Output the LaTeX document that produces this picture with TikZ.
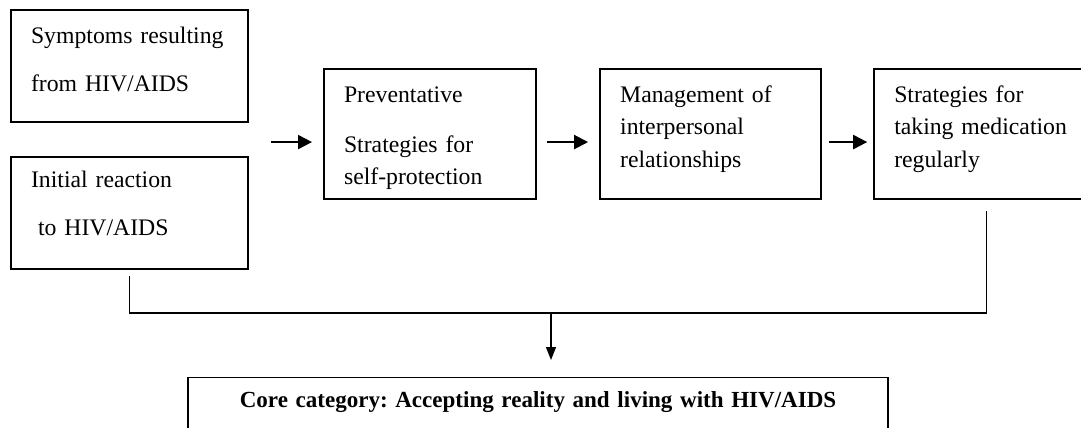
\documentclass[tikz,border=0pt]{standalone}
\usepackage{fontspec}
\setmainfont{Liberation Serif}
\usetikzlibrary{arrows.meta, positioning}
\frenchspacing

\begin{document}
\begin{tikzpicture}[
	font={\fontsize{13.5}{18.5}\selectfont},
	box/.style={draw, line width=1.2pt, align=left, anchor=north west,
		inner xsep=0.4cm, inner ysep=0.34cm, text height=0.32cm},
	smallbox/.style={box, text width=3.94cm, text depth=1.24cm},
	stagebox/.style={box, text depth=1.60cm},
	corebox/.style={draw, line width=0.6pt, anchor=north, align=center,
		text width=13.2cm, inner xsep=0.4cm, inner ysep=0.28cm,
		text height=0.32cm, text depth=0.8cm,
		font={\fontsize{13.1}{18}\selectfont\bfseries}},
	flow/.style={line width=1.2pt, -{Triangle[length=0.28cm, width=0.28cm]}},
	link/.style={line width=0.8pt},
	drop/.style={line width=0.7pt, -{Triangle[length=0.26cm, width=0.2cm]}}
	]
	\useasboundingbox (0,0) rectangle (21.62,-8.54);
	\clip (0,0) rectangle (21.62,-8.54);
	
	% Starting conditions
	\node[smallbox] (symptoms) at (0.20,-0.18) {Symptoms resulting\\[0.31cm]from HIV/AIDS};
	\node[smallbox, text height=0.26cm, text depth=1.30cm, below=0.66cm of symptoms] (reaction) {Initial reaction\\[0.31cm]\hspace*{0.14cm}to HIV/AIDS};
	
	% Strategies, left to right
	\node[stagebox, text width=3.44cm] (prevent) at (6.46,-1.36) {Preventative\\[0.35cm]Strategies for\\self-protection};
	\node[stagebox, text width=3.62cm, right=1.24cm of prevent] (manage) {Management of\\interpersonal\\relationships};
	\node[stagebox, text width=3.68cm, right=1.02cm of manage] (medication) {Strategies for\\taking medication\\regularly};
	
	\draw[flow, shorten <=0.44cm, shorten >=0.22cm] ([yshift=-0.16cm]prevent.west -| symptoms.east) -- ([yshift=-0.16cm]prevent.west);
	\draw[flow, shorten <=0.2cm, shorten >=0.22cm] ([yshift=-0.16cm]prevent.east) -- ([yshift=-0.16cm]manage.west);
	\draw[flow, shorten <=0.14cm, shorten >=0.12cm] ([yshift=-0.16cm]manage.east) -- ([yshift=-0.16cm]medication.west);
	
	% Core category
	\node[corebox] (core) at (10.76,-7.54) {Core category: Accepting reality and living with HIV/AIDS};
	
	\coordinate (merge) at (11.02,-6.26);
	\draw[link] ([yshift=-0.12cm]reaction.south) |- (merge) -| ([yshift=-0.22cm]medication.south);
	\draw[drop, shorten >=0.34cm] (merge) -- (merge |- core.north);
\end{tikzpicture}
\end{document}
